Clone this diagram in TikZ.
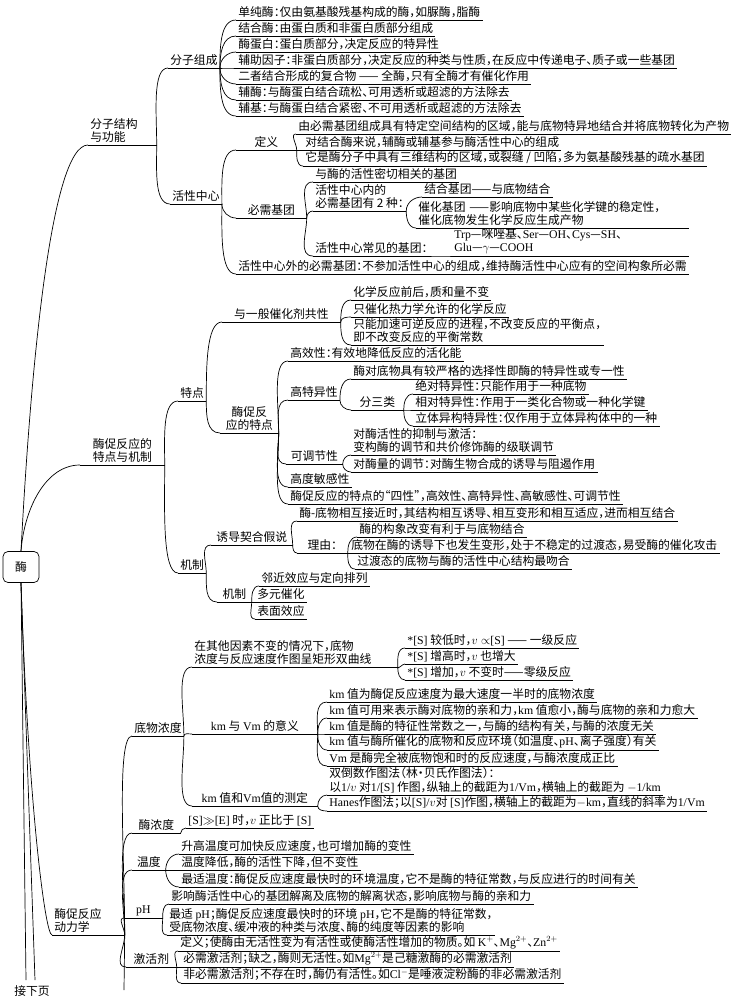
\documentclass[tikz,border=0pt]{standalone}
\usepackage{fontspec}
\setmainfont{Noto Sans CJK SC}[RawFeature=+halt]
\newfontfamily\latfont{Liberation Serif}
\newcommand\rmx[1]{{\latfont #1}}
\begin{document}
\begin{tikzpicture}[x=1pt,y=-1pt,line width=0.7pt,
  t/.style={anchor=south west,inner xsep=2pt,inner ysep=2pt,align=left,font=\fontsize{11.8}{13.5}\selectfont},
  rootbox/.style={draw,rounded corners=5pt,minimum width=36pt,minimum height=31pt,font=\fontsize{11.8}{13.5}\selectfont},
  plain/.style={font=\fontsize{11.8}{13.5}\selectfont}]
\useasboundingbox (0,0) rectangle (731,1001);
\fill[white] (0,0) rectangle (731,1001);
\node[rootbox] (root) at (21,567) {酶};
\node[plain] (End) at (32,991) {接下页};
\coordinate (e1) at (26,980);
\coordinate (e2) at (35,980);
\coordinate (cb) at (124,990);
% ---------------- 分子结构与功能
\node[t,text width=64] (A) at (88,145) {分子结构\\与功能};
\node[t] (M1) at (168,68) {分子组成};
\node[t] (c11) at (236,20) {单纯酶：仅由氨基酸残基构成的酶，如脲酶，脂酶};
\node[t] (c12) at (236,36) {结合酶：由蛋白质和非蛋白质部分组成};
\node[t] (c13) at (236,52) {酶蛋白：蛋白质部分，决定反应的特异性};
\node[t] (c14) at (236,68) {辅助因子：非蛋白质部分，决定反应的种类与性质，在反应中传递电子、质子或一些基团};
\node[t] (c15) at (236,84) {二者结合形成的复合物 —— 全酶，只有全酶才有催化作用};
\node[t] (c16) at (236,100) {辅酶：与酶蛋白结合疏松、可用透析或超滤的方法除去};
\node[t] (c17) at (236,116) {辅基：与酶蛋白结合紧密、不可用透析或超滤的方法除去};
\node[t] (M2) at (170,204) {活性中心};
\node[t,minimum width=60] (d1) at (236,150) {定义};
\node[t] (d11) at (296,134) {由必需基团组成具有特定空间结构的区域，能与底物特异地结合并将底物转化为产物};
\node[t] (d12) at (303,150) {对结合酶来说，辅酶或辅基参与酶活性中心的组成};
\node[t] (d13) at (303,166) {它是酶分子中具有三维结构的区域，或裂缝 / 凹陷，多为氨基酸残基的疏水基团};
\node[t,minimum width=70] (d2) at (236,218) {必需基团};
\node[t] (d21) at (313,182) {与酶的活性密切相关的基团};
\node[t] (d22) at (313,211) {活性中心内的\\必需基团有 2 种：};
\node[t] (d221) at (422,197) {结合基团——与底物结合};
\node[t,text width=268] (d222) at (416,228) {催化基团 ——影响底物中某些化学键的稳定性，\\催化底物发生化学反应生成产物};
\node[t] (d23) at (313,256) {活性中心常见的基团：};
\node[t,text width=232,font=\fontsize{11.8}{12.5}\selectfont] (d231) at (452,256) {\rmx{Trp}—咪唑基、\rmx{Ser}—\rmx{OH}、\rmx{Cys}—\rmx{SH}、\\\rmx{Glu}—$\gamma$—\rmx{COOH}};
\node[t] (d3) at (236,274) {活性中心外的必需基团：不参加活性中心的组成，维持酶活性中心应有的空间构象所必需};
% ---------------- 酶促反应的特点与机制
\node[t,text width=80,align=center] (B) at (80,465) {酶促反应的\\特点与机制};
\node[t] (B1) at (178,401) {特点};
\node[t,minimum width=118] (B11) at (222,322) {与一般催化剂共性};
\node[t] (b111) at (351,300) {化学反应前后，质和量不变};
\node[t] (b112) at (351,317) {只催化热力学允许的化学反应};
\node[t] (b113) at (351,345) {只能加速可逆反应的进程，不改变反应的平衡点，\\即不改变反应的平衡常数};
\node[t,text width=54,align=center] (B12) at (220,433) {酶促反\\应的特点};
\node[t] (b121) at (288,361) {高效性：有效地降低反应的活化能};
\node[t] (b122) at (288,400) {高特异性};
\node[t] (b1221) at (351,379) {酶对底物具有较严格的选择性即酶的特异性或专一性};
\node[t,minimum width=52] (b1222) at (351,410) {分三类};
\node[t] (b12221) at (413,394) {绝对特异性：只能作用于一种底物};
\node[t] (b12222) at (413,410) {相对特异性：作用于一类化合物或一种化学键};
\node[t] (b12223) at (413,426) {立体异构特异性：仅作用于立体异构体中的一种};
\node[t,minimum width=56] (b123) at (286,464) {可调节性};
\node[t] (b1231) at (351,455) {对酶活性的抑制与激活：\\变构酶的调节和共价修饰酶的级联调节};
\node[t] (b1232) at (351,472) {对酶量的调节：对酶生物合成的诱导与阻遏作用};
\node[t] (b124) at (288,487) {高度敏感性};
\node[t] (b125) at (288,504) {酶促反应的特点的“四性”，高效性、高特异性、高敏感性、可调节性};
\node[t] (B2) at (178,573) {机制};
\node[t,minimum width=81] (B21) at (211,545) {诱导契合假说};
\node[t] (b211) at (297,521) {酶-底物相互接近时，其结构相互诱导、相互变形和相互适应，进而相互结合};
\node[t,minimum width=50] (b212) at (297,553) {理由：};
\node[t] (b2121) at (357,537) {酶的构象改变有利于与底物结合};
\node[t] (b2122) at (349,553) {底物在酶的诱导下也发生变形，处于不稳定的过渡态，易受酶的催化攻击};
\node[t] (b2123) at (355,569) {过渡态的底物与酶的活性中心结构最吻合};
\node[t,minimum width=34] (B22) at (217,602) {机制};
\node[t] (b221) at (259,586) {邻近效应与定向排列};
\node[t] (b222) at (255,602) {多元催化};
\node[t] (b223) at (255,619) {表面效应};
% ---------------- 酶促反应动力学
\node[t,text width=68] (C) at (52,935) {酶促反应\\动力学};
\node[t] (C1) at (132,736) {底物浓度};
\node[t,text width=201] (C11) at (192,667) {在其他因素不变的情况下，底物\\浓度与反应速度作图呈矩形双曲线};
\node[t] (C111) at (405,648) {\rmx{*[S]} 较低时，$v\propto$\rmx{[S]} —— 一级反应};
\node[t] (C112) at (405,664) {\rmx{*[S]} 增高时，$v$ 也增大};
\node[t] (C113) at (405,680) {\rmx{*[S]} 增加，$v$ 不变时——零级反应};
\node[t,minimum width=125] (C12) at (192,734) {\rmx{km} 与 \rmx{Vm} 的意义};
\node[t] (C121) at (327,702) {\rmx{km} 值为酶促反应速度为最大速度一半时的底物浓度};
\node[t] (C122) at (327,718) {\rmx{km} 值可用来表示酶对底物的亲和力，\rmx{km} 值愈小，酶与底物的亲和力愈大};
\node[t] (C123) at (327,734) {\rmx{km} 值是酶的特征性常数之一，与酶的结构有关，与酶的浓度无关};
\node[t] (C124) at (327,750) {\rmx{km} 值与酶所催化的底物和反应环境（如温度、\rmx{pH}、离子强度）有关};
\node[t] (C125) at (327,766) {\rmx{Vm} 是酶完全被底物饱和时的反应速度，与酶浓度成正比};
\node[t,minimum width=125] (C13) at (192,806) {\rmx{km} 值和\rmx{Vm}值的测定};
\node[t] (C131) at (327,795) {双倒数作图法（林·贝氏作图法）：\\以\rmx{1/}$v$ 对\rmx{1/[S]} 作图，纵轴上的截距为\rmx{1/Vm}，横轴上的截距为 \rmx{$-$1/km}};
\node[t] (C132) at (327,811) {\rmx{Hanes}作图法；以\rmx{[S]/}$v$对 \rmx{[S]}作图，横轴上的截距为\rmx{$-$km}，直线的斜率为\rmx{1/Vm}};
\node[t,minimum width=48] (C2) at (132,833) {酶浓度};
\node[t] (C21) at (186,828) {\rmx{[S]}$\gg$\rmx{[E]} 时，$v$ 正比于 \rmx{[S]}};
\node[t,minimum width=33] (C3) at (132,870) {温度};
\node[t] (C31) at (179,854) {升高温度可加快反应速度，也可增加酶的变性};
\node[t] (C32) at (179,870) {温度降低，酶的活性下降，但不变性};
\node[t] (C33) at (179,887) {最适温度：酶促反应速度最快时的环境温度，它不是酶的特征常数，与反应进行的时间有关};
\node[t,minimum width=38] (C4) at (124,918) {\rmx{pH}};
\node[t] (C41) at (169,904) {影响酶活性中心的基团解离及底物的解离状态，影响底物与酶的亲和力};
\node[t] (C42) at (167,935) {最适 \rmx{pH}；酶促反应速度最快时的环境 \rmx{pH}，它不是酶的特征常数，\\受底物浓度、缓冲液的种类与浓度、酶的纯度等因素的影响};
\node[t,minimum width=50] (C5) at (126,967) {激活剂};
\node[t] (C51) at (178,951) {定义；使酶由无活性变为有活性或使酶活性增加的物质。如 \rmx{K$^+$}、\rmx{Mg$^{2+}$}、\rmx{Zn$^{2+}$}};
\node[t] (C52) at (181,967) {必需激活剂；缺之，酶则无活性。如\rmx{Mg$^{2+}$}是己糖激酶的必需激活剂};
\node[t] (C53) at (181,983) {非必需激活剂；不存在时，酶仍有活性。如\rmx{Cl$^-$}是唾液淀粉酶的非必需激活剂};
% ---------------- underlines
\foreach \n in {A,M1,c11,c12,c13,c14,c15,c16,c17,M2,d1,d11,d12,d13,d2,d21,d22,d221,d222,d23,d231,d3,
  B,B1,B11,b111,b112,b113,B12,b121,b122,b1221,b1222,b12221,b12222,b12223,b123,b1231,b1232,b124,b125,
  B2,B21,b211,b212,b2121,b2122,b2123,B22,b221,b222,b223,
  C,C1,C11,C111,C112,C113,C12,C121,C122,C123,C124,C125,C13,C131,C132,C2,C21,C3,C31,C32,C33,C4,C41,C42,C5,C51,C52,C53}
  {\draw (\n.south west) -- (\n.south east);}
% ---------------- connectors
\foreach \p/\c/\a in {A/M1/90,A/M2/-90,
  M1/c11/90,M1/c12/90,M1/c13/90,M1/c14/0,M1/c15/-90,M1/c16/-90,M1/c17/-90,
  M2/d1/90,M2/d2/-90,M2/d3/-90,
  d1/d11/90,d1/d12/0,d1/d13/-90,
  d2/d21/90,d2/d22/90,d2/d23/-90,
  d22/d221/90,d22/d222/-90,d23/d231/0,
  B/B1/90,B/B2/-90,B1/B11/90,B1/B12/-90,
  B11/b111/90,B11/b112/90,B11/b113/-90,
  B12/b121/90,B12/b122/90,B12/b123/-90,B12/b124/-90,B12/b125/-90,
  b122/b1221/90,b122/b1222/-90,
  b1222/b12221/90,b1222/b12222/0,b1222/b12223/-90,
  b123/b1231/90,b123/b1232/-90,
  B2/B21/90,B2/B22/-90,B21/b211/90,B21/b212/-90,
  b212/b2121/90,b212/b2122/0,b212/b2123/-90,
  B22/b221/90,B22/b222/0,B22/b223/-90,
  C/C1/90,C/C2/90,C/C3/90,C/C4/90,C/C5/-90,
  C1/C11/90,C1/C12/90,C1/C13/-90,
  C11/C111/90,C11/C112/-90,C11/C113/-90,
  C12/C121/90,C12/C122/90,C12/C123/0,C12/C124/-90,C12/C125/-90,
  C13/C131/90,C13/C132/-90,
  C2/C21/90,C3/C31/90,C3/C32/0,C3/C33/-90,
  C4/C41/90,C4/C42/-90,
  C5/C51/90,C5/C52/0,C5/C53/-90}
  {\draw (\p.south east) to[out=\a,in=180,in max distance=16pt] (\c.south west);}
\draw (C.south east) -- (cb);
\draw (root.north) .. controls (30,380) and (50,145) .. (A.south west);
\draw (root.north) .. controls (24,510) and (45,465) .. (B.south west);
\draw (root.south) .. controls (28,800) and (45,935) .. (C.south west);
\draw (root.south) -- (e1);
\draw (root.south) -- (e2);
\end{tikzpicture}
\end{document}
